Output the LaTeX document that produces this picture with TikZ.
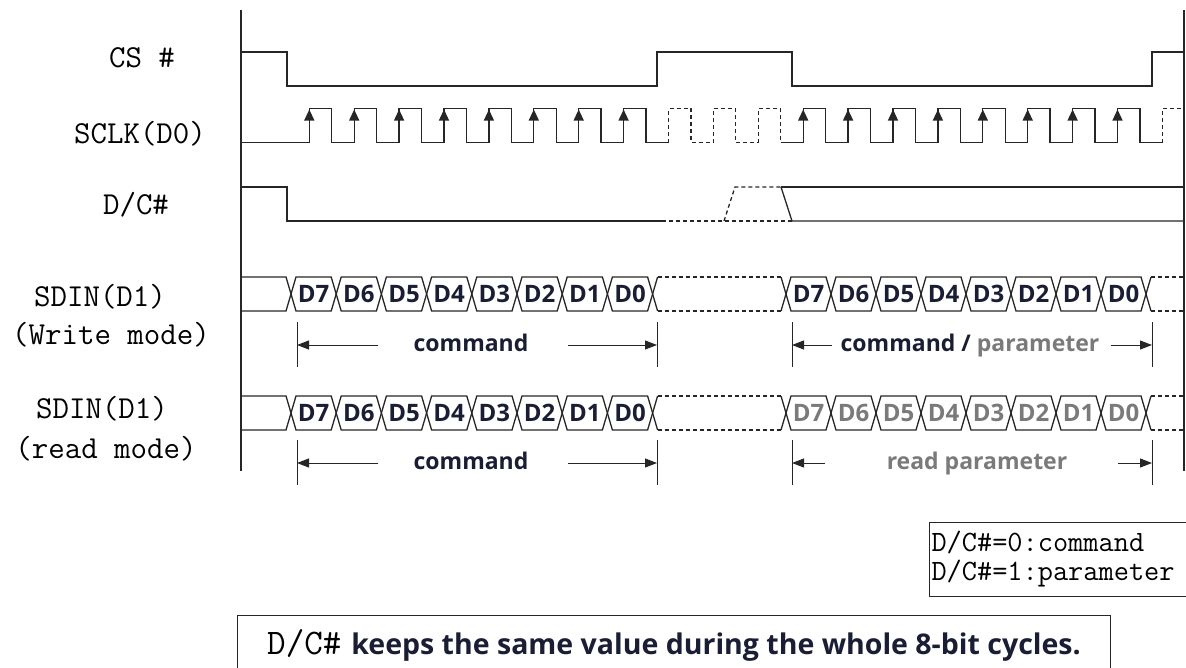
\documentclass[tikz,border=0pt]{standalone}
\usepackage{fontspec}
\newfontfamily\bitfont{Open Sans}
\usepackage{tikz}
\usetikzlibrary{arrows.meta}
\definecolor{ink}{RGB}{26,30,52}
\definecolor{greyink}{RGB}{122,122,122}

\begin{document}
\begin{tikzpicture}[
    x=1pt, y=-1pt,
    wave/.style={line width=1.3pt, black!85},
    ghost/.style={wave, dash pattern=on 4pt off 3pt},
    sig/.style={font=\ttfamily\fontsize{32}{36}\selectfont, inner sep=0pt, text height=20pt, text depth=0pt},
    bit/.style={font=\bitfont\bfseries\fontsize{24}{26}\selectfont, inner sep=0pt, text height=17pt, text depth=0pt},
    span/.style={font=\bitfont\bfseries\fontsize{23}{25}\selectfont, text=ink, inner sep=0pt, text height=17pt, text depth=5pt},
    dim/.style={line width=1pt, black!85, -{Triangle[length=12pt,width=9pt]}},
    bar/.style={line width=1pt, black!85},
    rise/.style={line width=1.3pt, black!85, -{Triangle[length=11pt,width=10pt]}}
  ]
  \useasboundingbox (0,0) rectangle (1186,667);

  \draw[wave] (241,10) -- (241,471);
  \draw[wave] (1184,10) -- (1184,471);

  \node[sig] (cs) at (142,57) {CS \#};
  \node[sig] (sclk) at (140,133) {SCLK(D0)};
  \node[sig] (dc) at (136,204) {D/C\#};
  \node[sig] (sdinw) at (100,296) {SDIN(D1)};
  \node[sig] (wmode) at (111,334) {(Write mode)};
  \node[sig] (sdinr) at (102,408) {SDIN(D1)};
  \node[sig] (rmode) at (106,448) {(read mode)};

  \draw[wave] (241,52) -| (287,86) -| (657,52) -| (792,86) -| (1152,52) -- (1184,52);

  \draw[wave] (241,142.5) -- (309.3,142.5);
  \foreach \k in {0,1,2,3,4,5,6,7,11,12,13,14,15,16,17,18}{
    \pgfmathsetmacro\r{309.3+44.9*\k}
    \draw[wave] (\r,142.5) |- (\r+22.4,108.5) |- (\r+44.9,142.5);
    \draw[rise] (\r,142.5) -- (\r,109.5);
  }
  \foreach \k in {8,9}{
    \pgfmathsetmacro\r{309.3+44.9*\k}
    \draw[ghost] (\r,142.5) |- (\r+22.4,108.5) |- (\r+44.9,142.5);
  }
  \draw[ghost] (758.3,142.5) |- (780.7,108.5) -- (780.7,142.5);
  \draw[wave] (780.7,142.5) -- (803.2,142.5);
  \draw[ghost] (1162.4,142.5) |- (1184,108.5);

  \draw[wave] (241,187) -| (287,221) -- (662,221);
  \draw[ghost] (662,221) -- (792,221);
  \draw[ghost] (724,221) -- (735,187) -- (781,187);
  \draw[wave] (781,187) -- (1184,187);
  \draw[wave] (781,187) -- (792,221) -- (1184,221);

  \foreach \ytop/\ybot/\tint/\rn in {277/311/ink/w, 396/430/greyink/r}{
    \pgfmathsetmacro\m{(\ytop+\ybot)/2}
    \draw[wave] (241,\ytop) -- (286,\ytop) -- (291,\m) -- (286,\ybot) -- (241,\ybot);
    \foreach \j in {0,...,7}{
      \pgfmathsetmacro\c{291+45.2*\j}
      \pgfmathtruncatemacro\d{7-\j}
      \draw[wave] (\c,\m) -- (\c+5,\ytop) -- (\c+40.2,\ytop) -- (\c+45.2,\m) -- (\c+40.2,\ybot) -- (\c+5,\ybot) -- cycle;
      \node[bit, text=ink] (\rn-a\j) at (\c+22.6,\m) {D\d};
    }
    \draw[wave] (657.6,\ytop) -- (652.6,\m) -- (657.6,\ybot);
    \draw[ghost] (657.6,\ytop) -- (781,\ytop) (657.6,\ybot) -- (781,\ybot);
    \draw[wave] (781,\ytop) -- (786,\m) -- (781,\ybot);
    \foreach \j in {0,...,7}{
      \pgfmathsetmacro\c{786+45*\j}
      \pgfmathtruncatemacro\d{7-\j}
      \draw[wave] (\c,\m) -- (\c+5,\ytop) -- (\c+40,\ytop) -- (\c+45,\m) -- (\c+40,\ybot) -- (\c+5,\ybot) -- cycle;
      \node[bit, text=\tint] (\rn-b\j) at (\c+22.5,\m) {D\d};
    }
    \draw[wave] (1151,\ytop) -- (1146,\m) -- (1151,\ybot);
    \draw[ghost] (1151,\ytop) -- (1184,\ytop) (1151,\ybot) -- (1184,\ybot);
  }

  \foreach \ya/\yb in {322/367, 440/485}
    \foreach \x in {297,657,792,1152}
      \draw[bar] (\x,\ya) -- (\x,\yb);

  \node[span] (cmdw) at (471,345) {command};
  \draw[dim] ([xshift=-35pt]cmdw.west) -- (297,345);
  \draw[dim] ([xshift=39pt]cmdw.east) -- (657,345);
  \node[span] (cpw) at (970,345) {command / \textcolor{greyink}{parameter}};
  \draw[dim] ([xshift=-8pt]cpw.west) -- (792,345);
  \draw[dim] ([xshift=11pt]cpw.east) -- (1152,345);

  \node[span] (cmdr) at (471,463) {command};
  \draw[dim] ([xshift=-35pt]cmdr.west) -- (297,463);
  \draw[dim] ([xshift=39pt]cmdr.east) -- (657,463);
  \node[span, text=greyink] (rdp) at (977,463) {read parameter};
  \draw[dim] ([xshift=-62pt]rdp.west) -- (792,463);
  \draw[dim] ([xshift=51pt]rdp.east) -- (1152,463);

  \node[draw=black!85, line width=1pt, anchor=north west, align=left, text width=262pt,
        font=\ttfamily\fontsize{29.5}{29}\selectfont, inner xsep=2pt, inner ysep=9pt] (key) at (929,522)
    {D/C\#=0:command\\D/C\#=1:parameter};

  \node[draw=black!85, line width=1pt, anchor=north west, minimum width=873pt, minimum height=60pt, inner sep=0pt] (note) at (237,615)
    {{\ttfamily\fontsize{36}{40}\selectfont D/C\#}\hspace{10pt}{\bitfont\bfseries\fontsize{28.5}{30}\selectfont\color{ink}keeps the same value during the whole 8-bit cycles.}};
\end{tikzpicture}
\end{document}
